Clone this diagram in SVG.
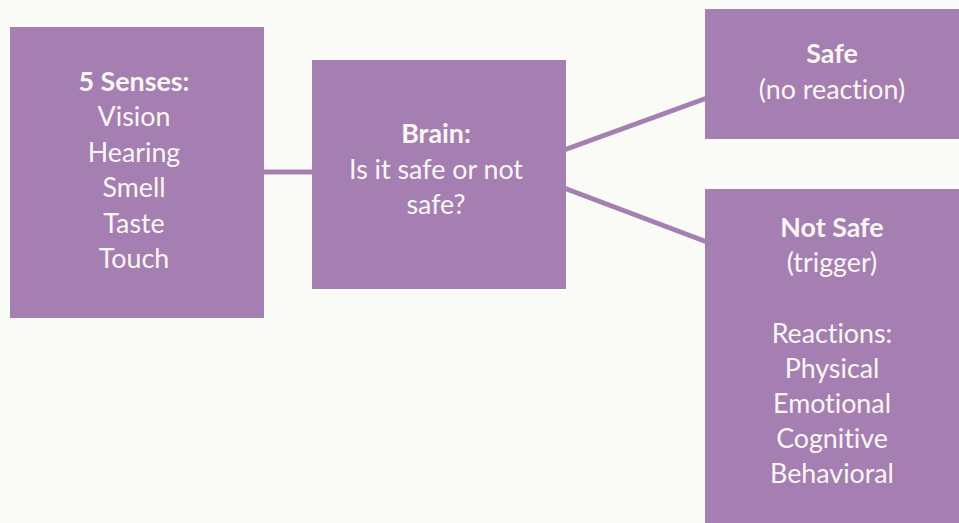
<svg xmlns="http://www.w3.org/2000/svg" width="959" height="523" viewBox="0 0 959 523">
<style>
.box{fill:#a57fb2}
.t{font-family:Lato,"Noto Sans",sans-serif;font-size:26.8px;fill:#faf6f2;text-anchor:middle;font-variant-ligatures:none}
.b{font-weight:bold}
.c{stroke:#a57fb2;stroke-width:5;fill:none}
</style>
<rect width="959" height="523" fill="#fafaf6"/>
<g id="connectors">
<line class="c" x1="262" y1="172" x2="314" y2="172"/>
<line class="c" x1="564" y1="150" x2="707" y2="98"/>
<line class="c" x1="564" y1="188" x2="707" y2="242"/>
</g>
<g id="senses">
<rect class="box" x="10" y="27" width="254" height="291"/>
<text class="t" x="134" y="91"><tspan class="b">5 Senses:</tspan><tspan x="134" dy="35.4">Vision</tspan><tspan x="134" dy="35.4">Hearing</tspan><tspan x="134" dy="35.4">Smell</tspan><tspan x="134" dy="35.4">Taste</tspan><tspan x="134" dy="35.4">Touch</tspan></text>
</g>
<g id="brain">
<rect class="box" x="312" y="60" width="254" height="229"/>
<text class="t" x="436" y="143"><tspan class="b">Brain:</tspan><tspan x="436" dy="35.5">Is it safe or not</tspan><tspan x="436" dy="35.5">safe?</tspan></text>
</g>
<g id="safe">
<rect class="box" x="705" y="9" width="254" height="130"/>
<text class="t" x="832" y="63"><tspan class="b">Safe</tspan><tspan x="832" dy="35.5">(no reaction)</tspan></text>
</g>
<g id="notsafe">
<rect class="box" x="705" y="189" width="254" height="334"/>
<text class="t" x="832" y="237"><tspan class="b">Not Safe</tspan><tspan x="832" dy="35.2">(trigger)</tspan><tspan x="832" dy="70.4">Reactions:</tspan><tspan x="832" dy="35.2">Physical</tspan><tspan x="832" dy="35.2">Emotional</tspan><tspan x="832" dy="35.2">Cognitive</tspan><tspan x="832" dy="35.2">Behavioral</tspan></text>
</g>
</svg>
